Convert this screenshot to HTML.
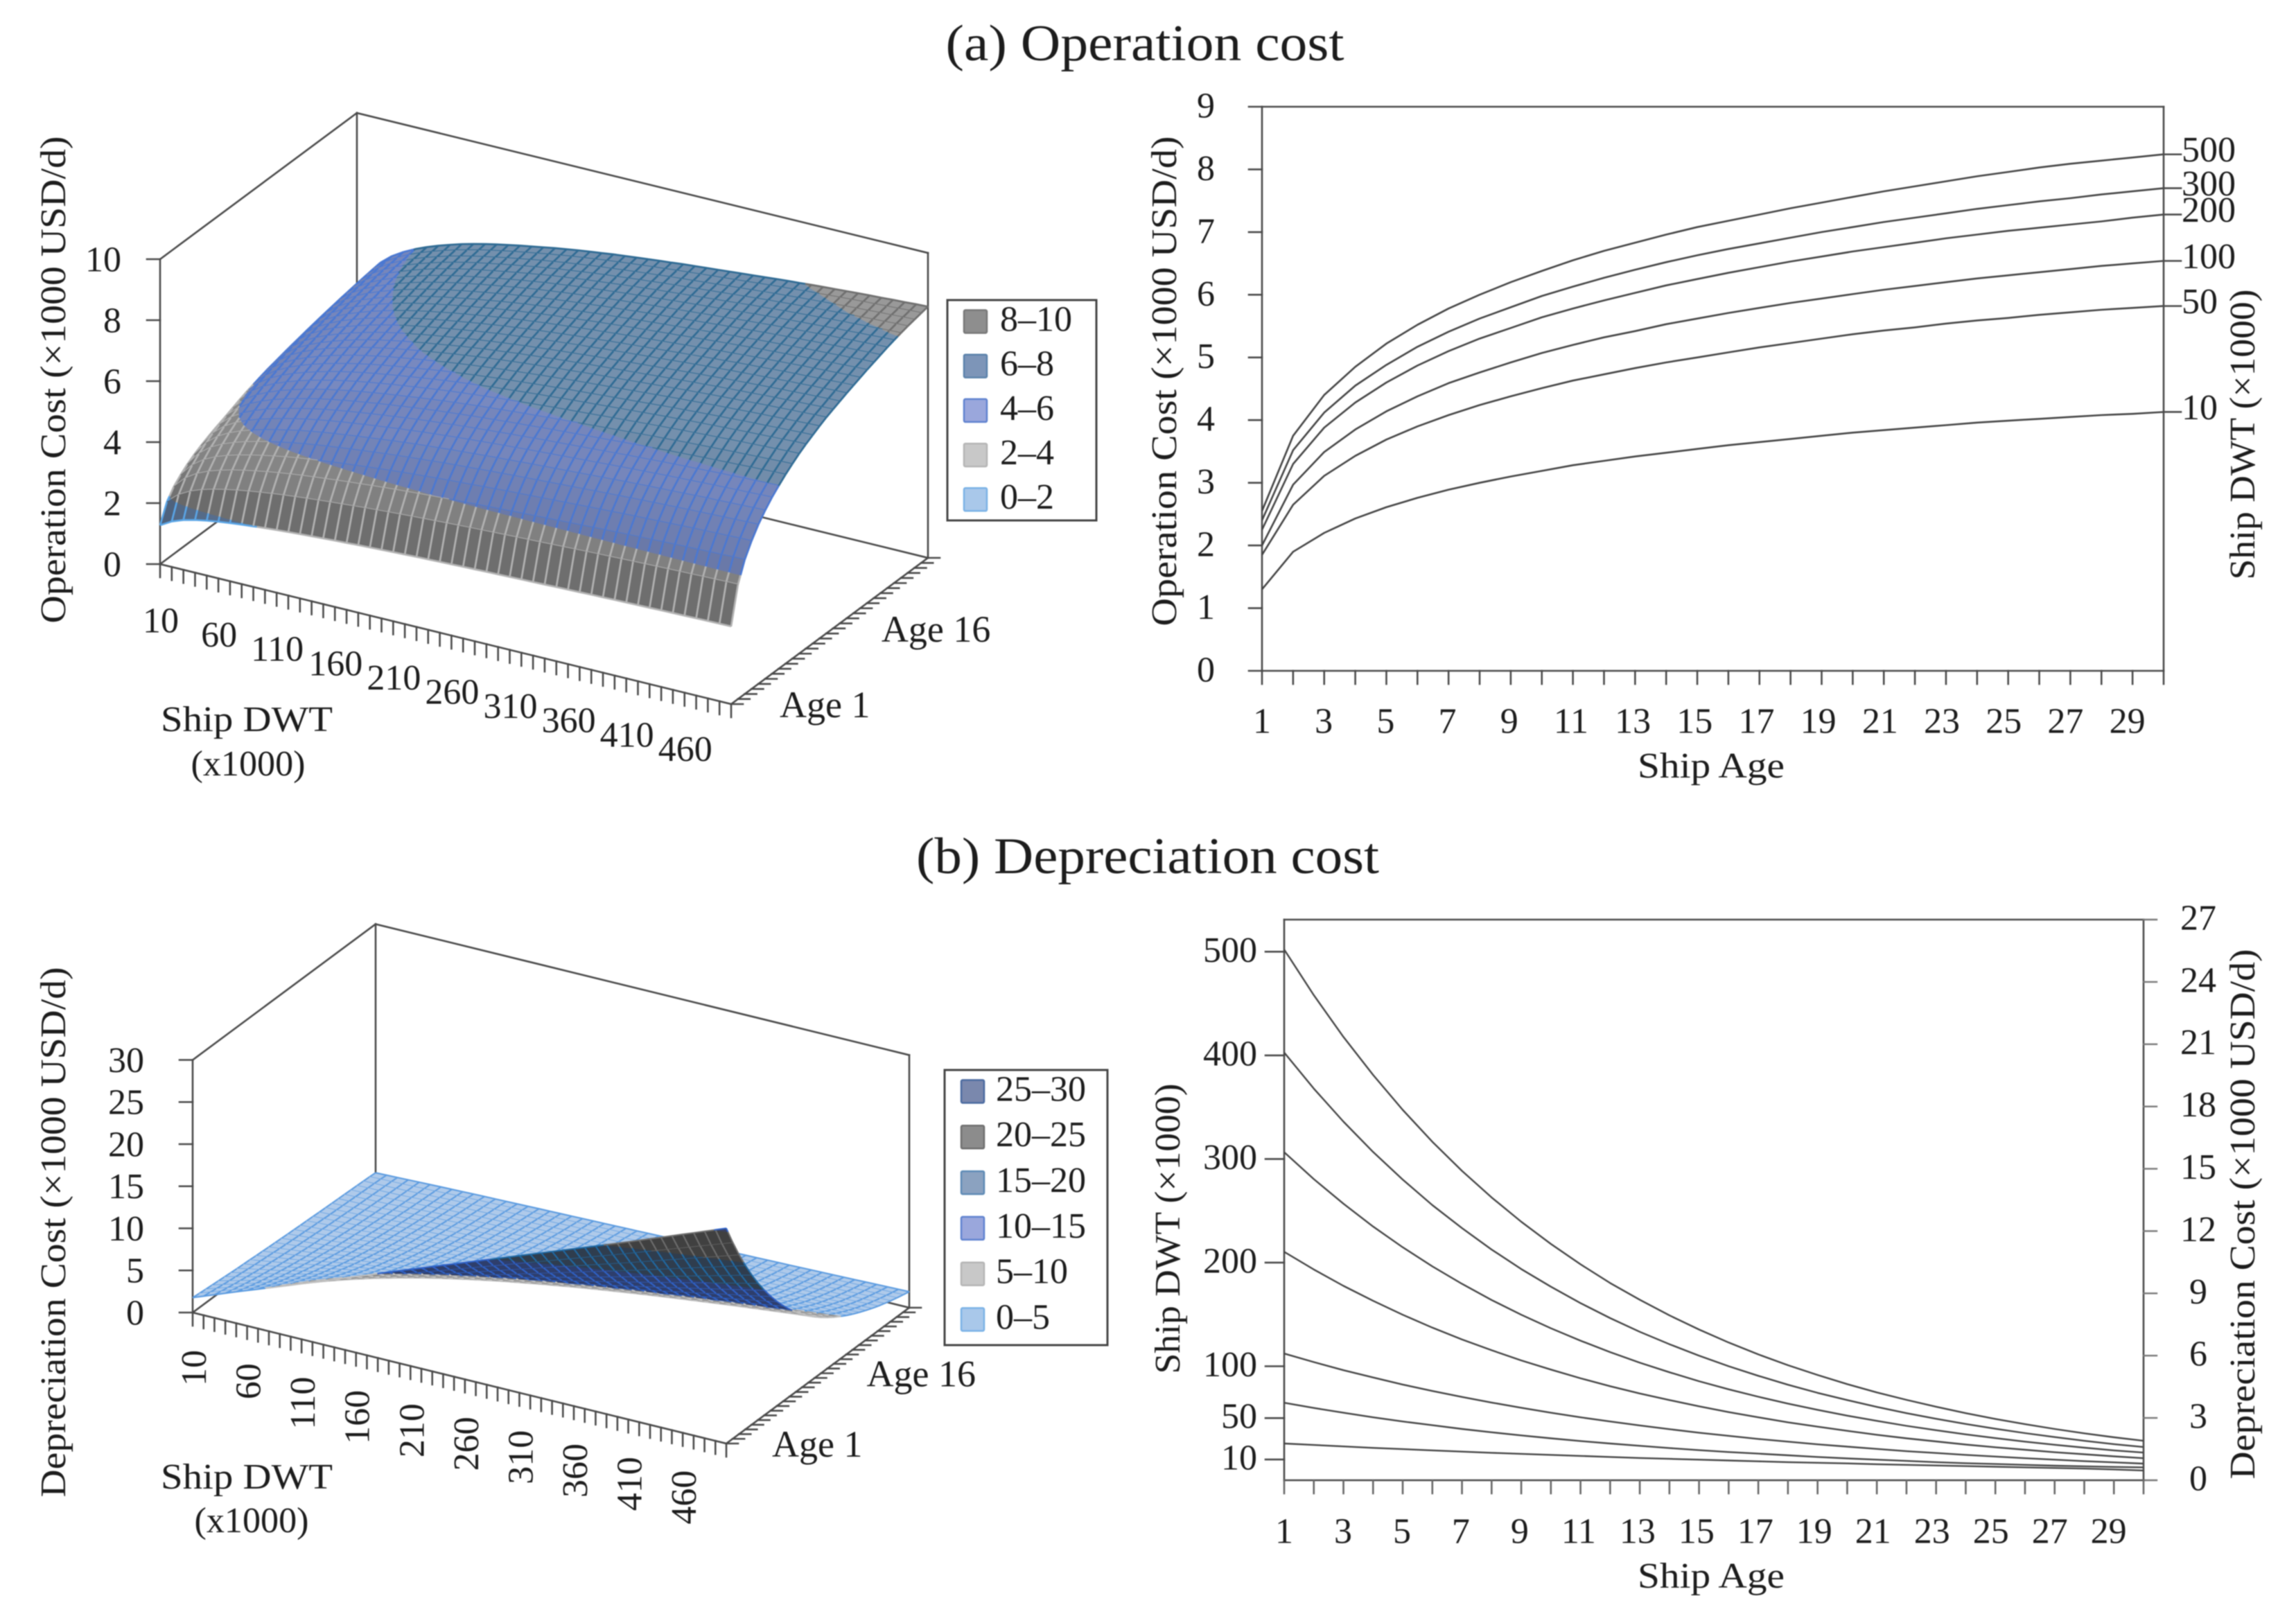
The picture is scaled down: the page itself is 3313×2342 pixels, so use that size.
<!DOCTYPE html>
<html lang="en">
<head>
<meta charset="utf-8">
<title>Operation cost and depreciation cost of ships</title>
<style>
html,body{margin:0;padding:0;background:#fff}
svg{display:block;filter:blur(0.7px)}
text{font-family:"Liberation Serif","DejaVu Serif",serif;fill:#1c1c1c}
</style>
</head>
<body>
<svg id="root" xmlns="http://www.w3.org/2000/svg" width="3313" height="2342" viewBox="0 0 3313 2342">
  <text x="1652" y="87" font-size="74" text-anchor="middle" textLength="575" lengthAdjust="spacingAndGlyphs">(a) Operation cost</text>
  <text x="1656" y="1260" font-size="74" text-anchor="middle" textLength="668" lengthAdjust="spacingAndGlyphs">(b) Depreciation cost</text>

  <g id="surfaceA"></g>
  <g id="surfaceB"></g>
  <g id="lineA"></g>
  <g id="lineB"></g>

  <text transform="translate(94,548) rotate(-90)" font-size="52" text-anchor="middle" textLength="703" lengthAdjust="spacingAndGlyphs">Operation Cost (×1000 USD/d)</text>
  <text x="356" y="1055" font-size="52" text-anchor="middle" textLength="248" lengthAdjust="spacingAndGlyphs">Ship DWT</text>
  <text x="358" y="1119" font-size="52" text-anchor="middle" textLength="165" lengthAdjust="spacingAndGlyphs">(x1000)</text>

  <text transform="translate(1697,550) rotate(-90)" font-size="52" text-anchor="middle" textLength="707" lengthAdjust="spacingAndGlyphs">Operation Cost (×1000 USD/d)</text>
  <text x="2469" y="1122" font-size="52" text-anchor="middle" textLength="212" lengthAdjust="spacingAndGlyphs">Ship Age</text>
  <text transform="translate(3253,627) rotate(-90)" font-size="52" text-anchor="middle" textLength="419" lengthAdjust="spacingAndGlyphs">Ship DWT (×1000)</text>

  <text transform="translate(94,1778) rotate(-90)" font-size="52" text-anchor="middle" textLength="765" lengthAdjust="spacingAndGlyphs">Depreciation Cost (×1000 USD/d)</text>
  <text x="356" y="2148" font-size="52" text-anchor="middle" textLength="248" lengthAdjust="spacingAndGlyphs">Ship DWT</text>
  <text x="363" y="2211" font-size="52" text-anchor="middle" textLength="165" lengthAdjust="spacingAndGlyphs">(x1000)</text>

  <text transform="translate(1702,1773) rotate(-90)" font-size="52" text-anchor="middle" textLength="419" lengthAdjust="spacingAndGlyphs">Ship DWT (×1000)</text>
  <text x="2469" y="2291" font-size="52" text-anchor="middle" textLength="212" lengthAdjust="spacingAndGlyphs">Ship Age</text>
  <text transform="translate(3253,1752) rotate(-90)" font-size="52" text-anchor="middle" textLength="765" lengthAdjust="spacingAndGlyphs">Depreciation Cost (×1000 USD/d)</text>
</svg>

<script>
// ---------- chart data ----------
const ages = [1,2,3,4,5,6,7,8,9,10,11,12,13,14,15,16,17,18,19,20,21,22,23,24,25,26,27,28,29,30];
const ageTickLabels = [1,3,5,7,9,11,13,15,17,19,21,23,25,27,29];

// Operation cost (x1000 USD/d) by age, one array per ship DWT
const opCostDwt500 = [2.55,3.75,4.40,4.85,5.22,5.52,5.78,6.00,6.20,6.38,6.55,6.70,6.83,6.96,7.08,7.18,7.28,7.38,7.47,7.56,7.65,7.73,7.81,7.89,7.96,8.03,8.09,8.14,8.19,8.24];
const opCostDwt300 = [2.40,3.52,4.12,4.55,4.88,5.17,5.41,5.62,5.80,5.98,6.13,6.27,6.40,6.52,6.63,6.73,6.82,6.91,7.00,7.08,7.16,7.23,7.30,7.37,7.43,7.49,7.54,7.60,7.65,7.70];
const opCostDwt200 = [2.25,3.30,3.88,4.28,4.60,4.87,5.10,5.30,5.47,5.64,5.78,5.91,6.03,6.15,6.25,6.35,6.44,6.53,6.61,6.69,6.76,6.83,6.90,6.96,7.02,7.07,7.12,7.17,7.23,7.28];
const opCostDwt100 = [2.00,2.97,3.49,3.85,4.14,4.38,4.59,4.76,4.92,5.07,5.20,5.32,5.42,5.53,5.62,5.71,5.79,5.87,5.94,6.01,6.08,6.14,6.20,6.26,6.31,6.36,6.41,6.46,6.50,6.54];
const opCostDwt50  = [1.85,2.65,3.11,3.43,3.69,3.90,4.08,4.24,4.38,4.51,4.63,4.73,4.83,4.92,5.00,5.08,5.16,5.23,5.30,5.37,5.43,5.48,5.54,5.59,5.63,5.68,5.72,5.76,5.79,5.82];
const opCostDwt10  = [1.30,1.90,2.20,2.43,2.61,2.76,2.89,3.00,3.10,3.19,3.28,3.35,3.42,3.48,3.54,3.60,3.65,3.70,3.75,3.80,3.84,3.88,3.92,3.96,3.99,4.02,4.05,4.08,4.10,4.13];
const opSeriesLabels = ['500','300','200','100','50','10'];
const opYTicks = [0,1,2,3,4,5,6,7,8,9];

// Depreciation cost (x1000 USD/d) by age, one array per ship DWT
const depCostDwt500 = [25.56,23.36,21.35,19.52,17.84,16.3,14.9,13.62,12.45,11.38,10.4,9.5,8.69,7.94,7.26,6.63,6.06,5.54,5.07,4.63,4.23,3.87,3.54,3.23,2.95,2.7,2.47,2.26,2.07,1.9];
const depCostDwt400 = [20.6,18.86,17.27,15.81,14.48,13.25,12.14,11.11,10.17,9.32,8.53,7.81,7.15,6.55,6.0,5.49,5.03,4.6,4.21,3.86,3.53,3.23,2.96,2.71,2.48,2.27,2.08,1.9,1.74,1.6];
const depCostDwt300 = [15.8,14.5,13.32,12.22,11.22,10.3,9.46,8.68,7.97,7.32,6.72,6.17,5.66,5.2,4.77,4.38,4.02,3.69,3.39,3.11,2.86,2.62,2.41,2.21,2.03,1.86,1.71,1.57,1.44,1.33];
const depCostDwt200 = [11,10.15,9.36,8.64,7.97,7.35,6.78,6.26,5.77,5.33,4.91,4.53,4.18,3.86,3.56,3.28,3.03,2.79,2.58,2.38,2.19,2.02,1.87,1.72,1.59,1.47,1.35,1.25,1.15,1.06];
const depCostDwt100 = [6.1,5.69,5.3,4.95,4.61,4.3,4.01,3.74,3.49,3.25,3.03,2.83,2.64,2.46,2.29,2.14,1.99,1.86,1.73,1.62,1.51,1.4,1.31,1.22,1.14,1.06,0.99,0.92,0.86,0.8];
const depCostDwt50  = [3.73,3.48,3.25,3.03,2.83,2.65,2.47,2.31,2.16,2.02,1.89,1.77,1.66,1.55,1.45,1.36,1.28,1.2,1.12,1.05,0.99,0.93,0.87,0.82,0.78,0.74,0.7,0.67,0.64,0.62];
const depCostDwt10  = [1.77,1.7,1.63,1.56,1.5,1.44,1.38,1.32,1.27,1.22,1.17,1.12,1.07,1.03,0.99,0.95,0.91,0.87,0.84,0.81,0.77,0.74,0.71,0.68,0.65,0.62,0.59,0.56,0.52,0.47];
const depSeriesDwt = [10,50,100,200,300,400,500];
const depDwtTicks = [500,400,300,200,100,50,10];
const depYTicks = [0,3,6,9,12,15,18,21,24,27];

// Surface axes
const surfaceDwtValues = [10,20,30,40,50,60,70,80,90,100,110,120,130,140,150,160,170,180,190,200,210,220,230,240,250,260,270,280,290,300,310,320,330,340,350,360,370,380,390,400,410,420,430,440,450,460,470,480,490,500];
// Operation cost at each DWT relative to the 500k DWT ship
const opSurfaceDwtShare = [0.50,0.585,0.64,0.678,0.706,0.729,0.748,0.765,0.78,0.794,0.806,0.817,0.827,0.836,0.845,0.853,0.861,0.869,0.876,0.883,0.889,0.895,0.901,0.906,0.911,0.916,0.921,0.925,0.93,0.934,0.938,0.942,0.946,0.95,0.954,0.958,0.962,0.966,0.969,0.973,0.976,0.979,0.982,0.985,0.988,0.99,0.993,0.995,0.998,1];
const surfaceDwtLabels = [10,60,110,160,210,260,310,360,410,460];
const surfaceAgeLabels = [1,16];
const opSurfaceZTicks = [0,2,4,6,8,10];
const depSurfaceZTicks = [0,5,10,15,20,25,30];
const opLegendLabels = ['8–10','6–8','4–6','2–4','0–2'];
const depLegendLabels = ['25–30','20–25','15–20','10–15','5–10','0–5'];

// ---------- helpers ----------
const NS = 'http://www.w3.org/2000/svg';
const LINE = '#4a4a4a';
function mk(parent, tag, attrs){
  const el = document.createElementNS(NS, tag);
  for (const k in attrs) el.setAttribute(k, attrs[k]);
  parent.appendChild(el);
  return el;
}
function seg(parent, x1, y1, x2, y2, name, width, color){
  const el = mk(parent, 'line', {x1:x1, y1:y1, x2:x2, y2:y2, stroke:color||LINE, 'stroke-width':width||2.6, 'stroke-linecap':'square'});
  
  
  return el;
}
function label(parent, x, cy, str, anchor, name, size){
  const s = size || 52;
  const el = mk(parent, 'text', {x:x, y:cy + s*0.335, 'font-size':s, 'text-anchor':anchor});
  el.textContent = str;
  
  
  return el;
}
function shadeHex(hex, f){
  const n = parseInt(hex.slice(1), 16);
  const c = v => Math.max(0, Math.min(255, Math.round(v*f)));
  return 'rgb(' + c(n>>16&255) + ',' + c(n>>8&255) + ',' + c(n&255) + ')';
}
const fx = v => v.toFixed(1);

function clipZ(poly, limit, keepAbove){
  const out = [];
  for (let i = 0; i < poly.length; i++){
    const a = poly[i], b = poly[(i+1) % poly.length];
    const ina = keepAbove ? a[2] >= limit : a[2] <= limit;
    const inb = keepAbove ? b[2] >= limit : b[2] <= limit;
    if (ina) out.push(a);
    if (ina !== inb){
      const t = (limit - a[2]) / (b[2] - a[2]);
      out.push([a[0] + (b[0]-a[0])*t, a[1] + (b[1]-a[1])*t, limit]);
    }
  }
  return out;
}

// ---------- 3D surface ----------
function drawSurface(cfg){
  const g = cfg.group;
  const nA = ages.length - 1, nD = surfaceDwtValues.length - 1;
  const base = (ai, di) => [
    cfg.fl[0] + (cfg.fr[0]-cfg.fl[0])*di/nD + (cfg.br[0]-cfg.fr[0])*ai/nA,
    cfg.fl[1] + (cfg.fr[1]-cfg.fl[1])*di/nD + (cfg.br[1]-cfg.fr[1])*ai/nA
  ];
  const node = (ai, di) => {
    const b = base(ai, di), z = cfg.value(ai, di);
    return [b[0], b[1] - z*cfg.zUnit, z];
  };
  const blx = base(nA, 0), brx = base(nA, nD);
  const H = cfg.zTop*cfg.zUnit;

  // walls and base behind the surface
  seg(g, cfg.fl[0], cfg.fl[1], cfg.fl[0], cfg.fl[1]-H, 'front-left-wall-edge');
  seg(g, cfg.fl[0], cfg.fl[1]-H, blx[0], blx[1]-H, 'left-wall-top-edge');
  seg(g, blx[0], blx[1]-H, brx[0], brx[1]-H, 'back-wall-top-edge');
  seg(g, blx[0], blx[1]-H, blx[0], blx[1], 'back-left-wall-edge');
  seg(g, brx[0], brx[1]-H, brx[0], brx[1], 'back-right-wall-edge');
  seg(g, cfg.fl[0], cfg.fl[1], blx[0], blx[1], 'left-floor-edge');
  seg(g, blx[0], blx[1], brx[0], brx[1], 'back-floor-edge');

  const surf = mk(g, 'g', {'stroke-linejoin':'round'});
  
  

  const bandOf = z => {
    for (let i = 0; i < cfg.bands.length; i++) if (z <= cfg.bands[i].hi) return cfg.bands[i];
    return cfg.bands[cfg.bands.length-1];
  };

  for (let ai = nA-1; ai >= 0; ai--){
    const fills = {}, lines = {};
    for (let di = 0; di < nD; di++){
      const p00 = node(ai,di), p10 = node(ai+1,di), p11 = node(ai+1,di+1), p01 = node(ai,di+1);
      let f = 1;
      if (cfg.shaded){
        const top = cfg.value(nA, di+1);
        const r = Math.max(p10[2]-p00[2], p11[2]-p01[2]) / top;
        const q = Math.max(0, (p01[2]-p00[2])/p01[2] - 0.02);
        f = Math.min(1, 1.03 - 1.85*r) * (1 - 0.9*q);
        f = Math.round(f*50)/50;
      }
      [[p00,p10,p11],[p00,p11,p01]].forEach(tri => {
        cfg.bands.forEach(b => {
          let poly = clipZ(tri, b.lo, true);
          if (poly.length >= 3) poly = clipZ(poly, b.hi, false);
          if (poly.length < 3) return;
          const col = shadeHex(b.fill, f);
          const d = 'M' + poly.map(p => fx(p[0]) + ' ' + fx(p[1])).join('L') + 'Z';
          fills[col] = (fills[col] || '') + d;
        });
      });
    }
    const addLine = (a, b) => {
      const zs = [];
      cfg.bands.forEach(bd => {
        if ((a[2]-bd.hi)*(b[2]-bd.hi) < 0) zs.push((bd.hi-a[2])/(b[2]-a[2]));
      });
      zs.sort((m,n) => m-n);
      let px = a[0], py = a[1], pz = a[2];
      zs.concat([1]).forEach(t => {
        const x = a[0]+(b[0]-a[0])*t, y = a[1]+(b[1]-a[1])*t, z = a[2]+(b[2]-a[2])*t;
        const col = bandOf((pz+z)/2).line;
        lines[col] = (lines[col] || '') + 'M' + fx(px) + ' ' + fx(py) + 'L' + fx(x) + ' ' + fx(y);
        px = x; py = y; pz = z;
      });
    };
    for (let di = 0; di <= nD; di++){
      addLine(node(ai,di), node(ai+1,di));
      if (di < nD){
        addLine(node(ai,di), node(ai,di+1));
        if (ai === nA-1) addLine(node(ai+1,di), node(ai+1,di+1));
      }
    }
    for (const col in fills){
      const el = mk(surf, 'path', {d:fills[col], fill:col, stroke:col, 'stroke-width':0.7});
      
      
    }
    for (const col in lines){
      const el = mk(surf, 'path', {d:lines[col], fill:'none', stroke:col, 'stroke-width':cfg.meshWidth});
      
      
    }
  }

  // axes in front
  seg(g, cfg.fl[0], cfg.fl[1], cfg.fr[0], cfg.fr[1], 'dwt-axis-line');
  seg(g, cfg.fr[0], cfg.fr[1], cfg.br[0], cfg.br[1], 'age-axis-line');
  cfg.zTicks.forEach(v => {
    const y = cfg.fl[1] - v*cfg.zUnit;
    seg(g, cfg.fl[0]-19, y, cfg.fl[0], y, 'z-axis-tick');
    label(g, cfg.zLabelX, y, String(v), 'end', 'z-axis-tick-label');
  });
  surfaceDwtValues.forEach((d, i) => {
    const b = base(0, i);
    seg(g, b[0], b[1], b[0], b[1]+19, 'dwt-axis-tick');
  });
  ages.forEach((a, i) => {
    const b = base(i, nD);
    seg(g, b[0], b[1], b[0]+17, b[1], 'age-axis-tick');
  });
  surfaceDwtLabels.forEach(d => {
    const b = base(0, surfaceDwtValues.indexOf(d));
    if (cfg.rotateDwt){
      const el = mk(g, 'text', {transform:'translate(' + fx(b[0]+19) + ',' + fx(b[1]+54) + ') rotate(-90)', 'font-size':52, 'text-anchor':'end'});
      el.textContent = String(d);
      
      
    } else {
      label(g, b[0]+1, b[1]+81, String(d), 'middle', 'dwt-axis-tick-label');
    }
  });
  surfaceAgeLabels.forEach(a => {
    const b = base(ages.indexOf(a), nD);
    label(g, b[0]+cfg.ageLabelDx, b[1]+1, 'Age ' + a, 'start', 'age-axis-tick-label', 54);
  });

  // legend
  const lg = mk(g, 'g', {});
  
  
  const box = mk(lg, 'rect', {x:cfg.legend.x, y:cfg.legend.y, width:cfg.legend.w, height:cfg.legend.h, fill:'#fff', stroke:'#444', 'stroke-width':3});
  
  
  cfg.legendLabels.forEach((t, i) => {
    const cy = cfg.legend.first + i*cfg.legend.step;
    const band = cfg.bands[cfg.bands.length-1-i];
    const sw = mk(lg, 'rect', {x:cfg.legend.x+24, y:cy-16.5, width:33, height:33, rx:2, fill:band.swatch, stroke:band.swatchEdge, 'stroke-width':2.5});
    
    
    label(lg, cfg.legend.x+cfg.legend.textDx, cy-4, t, 'start', 'legend-entry');
  });
}

const opBands = [
  {lo:0, hi:2,  fill:'#7390b8', line:'#5aa5e6', swatch:'#a9c8ea', swatchEdge:'#7ab2e6'},
  {lo:2, hi:4,  fill:'#919191', line:'#b2b2b2', swatch:'#c8c8c8', swatchEdge:'#b5b5b5'},
  {lo:4, hi:6,  fill:'#7889bf', line:'#4a78d2', swatch:'#9aa7dc', swatchEdge:'#5f82cf'},
  {lo:6, hi:8,  fill:'#7490ad', line:'#2f6b94', swatch:'#7d95b8', swatchEdge:'#5b82ab'},
  {lo:8, hi:10, fill:'#999999', line:'#6f6f6f', swatch:'#8e8e8e', swatchEdge:'#777777'}
];
const depBands = [
  {lo:0,  hi:5,  fill:'#afcaea', line:'#5b9be0', swatch:'#a9c8ea', swatchEdge:'#7ab2e6'},
  {lo:5,  hi:10, fill:'#8c8c8c', line:'#c0c0c0', swatch:'#c8c8c8', swatchEdge:'#b5b5b5'},
  {lo:10, hi:15, fill:'#2e3e6c', line:'#2f62c8', swatch:'#9aa7dc', swatchEdge:'#5f82cf'},
  {lo:15, hi:20, fill:'#2f3d4e', line:'#1f6aa5', swatch:'#8ba2c0', swatchEdge:'#5d8ab5'},
  {lo:20, hi:25, fill:'#404040', line:'#6e6e6e', swatch:'#8c8c8c', swatchEdge:'#6f6f6f'},
  {lo:25, hi:30, fill:'#3a4060', line:'#2f62c8', swatch:'#7a88ad', swatchEdge:'#4a6aa0'}
];

function depSurfaceValue(ai, di){
  const series = [depCostDwt10, depCostDwt50, depCostDwt100, depCostDwt200, depCostDwt300, depCostDwt400, depCostDwt500];
  const d = surfaceDwtValues[di];
  let k = 0;
  while (k < depSeriesDwt.length-2 && d > depSeriesDwt[k+1]) k++;
  const t = (d - depSeriesDwt[k]) / (depSeriesDwt[k+1] - depSeriesDwt[k]);
  return series[k][ai] + (series[k+1][ai] - series[k][ai])*t;
}

drawSurface({
  group: document.getElementById('surfaceA'),
  fl:[231,814], fr:[1055,1016], br:[1339,805], zUnit:44, zTop:10,
  value:(ai, di) => opCostDwt500[ai]*opSurfaceDwtShare[di],
  bands:opBands, shaded:true, meshWidth:2.7,
  zTicks:opSurfaceZTicks, zLabelX:175, rotateDwt:false, ageLabelDx:70,
  legend:{x:1367, y:433, w:215, h:318, first:464, step:64.2, textDx:76},
  legendLabels:opLegendLabels
});
drawSurface({
  group: document.getElementById('surfaceB'),
  fl:[278,1894], fr:[1048,2083], br:[1312,1887], zUnit:12.15, zTop:30,
  value:depSurfaceValue,
  bands:depBands, shaded:false, meshWidth:2.1,
  zTicks:depSurfaceZTicks, zLabelX:208, rotateDwt:true, ageLabelDx:66,
  legend:{x:1363, y:1544, w:235, h:397, first:1575, step:65.8, textDx:74},
  legendLabels:depLegendLabels
});

// ---------- line chart (a) ----------
(function(){
  const g = document.getElementById('lineA');
  const L = 1821, R = 3122, T = 154, B = 968;
  const xAge = a => L + (a-1)/(ages[ages.length-1]-1)*(R-L);
  const yVal = v => B - v/9*(B-T);
  seg(g, L, T, R, T, 'plot-top-edge');
  seg(g, R, T, R, B, 'plot-right-edge');
  seg(g, L, T, L, B, 'y-axis-line');
  seg(g, L, B, R, B, 'x-axis-line');
  opYTicks.forEach(v => {
    seg(g, L-19, yVal(v), L, yVal(v), 'y-axis-tick');
    label(g, 1740, yVal(v)-2, String(v), 'middle', 'y-axis-tick-label');
  });
  ages.forEach(a => {
    seg(g, xAge(a), B, xAge(a), B+19, 'x-axis-tick');
  });
  ageTickLabels.forEach(a => {
    label(g, xAge(a) - (a-1)*0.27, 1040, String(a), 'middle', 'x-axis-tick-label');
  });
  [opCostDwt500, opCostDwt300, opCostDwt200, opCostDwt100, opCostDwt50, opCostDwt10].forEach((vals, i) => {
    const d = vals.map((v, k) => (k ? 'L' : 'M') + fx(xAge(ages[k])) + ' ' + fx(yVal(v))).join('');
    const el = mk(g, 'path', {d:d, fill:'none', stroke:'#444', 'stroke-width':2.6, 'stroke-linejoin':'round'});
    
    
    const y = yVal(vals[vals.length-1]);
    seg(g, R, y, R+25, y, 'series-leader-line');
    label(g, R+26, y-7, opSeriesLabels[i], 'start', 'series-label');
  });
})();

// ---------- line chart (b) ----------
(function(){
  const g = document.getElementById('lineB');
  const L = 1853, R = 3093, T = 1327, B = 2136;
  const xAge = a => L + (a-1)/(ages[ages.length-1]-1)*(R-L);
  const yVal = v => B - v/27*(B-T);
  const dwtMin = -10, dwtMax = 531;
  const yDwt = d => B - (d-dwtMin)/(dwtMax-dwtMin)*(B-T);
  seg(g, L, T, R, T, 'plot-top-edge');
  seg(g, R, T, R, B, 'right-axis-line');
  seg(g, L, T, L, B, 'dwt-axis-line');
  seg(g, L, B, R, B, 'x-axis-line');
  depDwtTicks.forEach(d => {
    seg(g, L-27, yDwt(d), L, yDwt(d), 'dwt-axis-tick');
    label(g, 1814, yDwt(d)-3, String(d), 'end', 'dwt-axis-tick-label');
  });
  depYTicks.forEach(v => {
    seg(g, R, yVal(v), R+19, yVal(v), 'y-axis-tick', 2.4, '#777');
    label(g, 3172, yVal(v)-3, String(v), 'middle', 'y-axis-tick-label');
  });
  ages.forEach(a => {
    seg(g, xAge(a), B, xAge(a), B+19, 'x-axis-tick', 2.6, '#666');
  });
  ageTickLabels.forEach(a => {
    label(g, xAge(a) - (a-1)*0.27, 2209, String(a), 'middle', 'x-axis-tick-label');
  });
  [depCostDwt500, depCostDwt400, depCostDwt300, depCostDwt200, depCostDwt100, depCostDwt50, depCostDwt10].forEach(vals => {
    const d = vals.map((v, k) => (k ? 'L' : 'M') + fx(xAge(ages[k])) + ' ' + fx(yVal(v))).join('');
    const el = mk(g, 'path', {d:d, fill:'none', stroke:'#444', 'stroke-width':2.4, 'stroke-linejoin':'round'});
    
    
  });
})();
</script>
</body>
</html>
